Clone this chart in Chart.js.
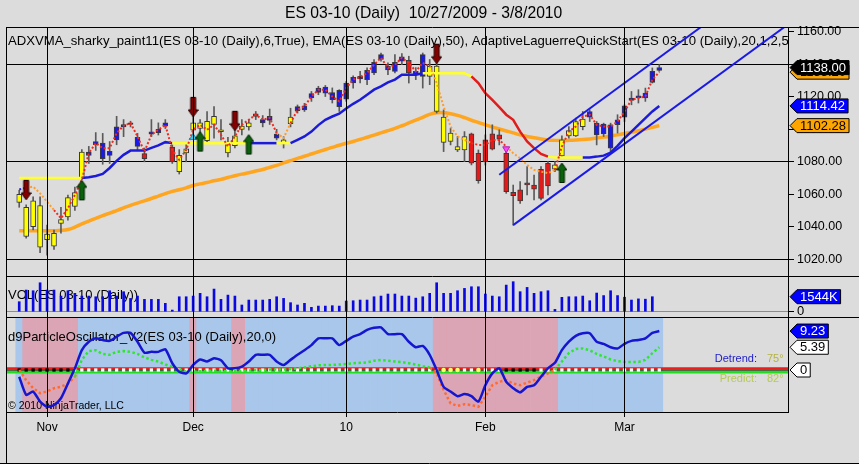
<!DOCTYPE html>
<html>
<head>
<meta charset="utf-8">
<title>ES 03-10 (Daily)</title>
<script src="https://cdn.jsdelivr.net/npm/chart.js@4.4.1/dist/chart.umd.min.js"></script>
<style>
  html, body { margin: 0; padding: 0; background: #dcdcdc; }
  #wrap { position: relative; width: 859px; height: 464px; overflow: hidden; }
  #c { position: absolute; left: 0; top: 0; }
  #title { position: absolute; top: 4px; left: 285px; font: 15.7px "Liberation Sans", Arial, sans-serif; white-space: pre; color: #000; }
</style>
</head>
<body>
<div id="wrap">
  <canvas id="c" width="859" height="464"></canvas>
  <div id="title">ES 03-10 (Daily)  10/27/2009 - 3/8/2010</div>
</div>
<script>
const FONT = '"Liberation Sans", Arial, sans-serif';

// trading days on the chart
const days = [
  '10/27','10/28','10/29','10/30',
  '11/2','11/3','11/4','11/5','11/6','11/9','11/10','11/11','11/12','11/13','11/16','11/17','11/18','11/19','11/20','11/23','11/24','11/25','11/26','11/27','11/30',
  '12/1','12/2','12/3','12/4','12/7','12/8','12/9','12/10','12/11','12/14','12/15','12/16','12/17','12/18','12/21','12/22','12/23','12/24','12/28','12/29','12/30','12/31',
  '1/4','1/5','1/6','1/7','1/8','1/11','1/12','1/13','1/14','1/15','1/18','1/19','1/20','1/21','1/22','1/25','1/26','1/27','1/28','1/29',
  '2/1','2/2','2/3','2/4','2/5','2/8','2/9','2/10','2/11','2/12','2/15','2/16','2/17','2/18','2/19','2/22','2/23','2/24','2/25','2/26',
  '3/1','3/2','3/3','3/4','3/5','3/8'
];

// month gridlines (bar index) and their labels
const monthIdx = [4, 25, 47, 67, 87];
const monthLbl = ['Nov', 'Dec', '10', 'Feb', 'Mar'];
const priceTicks = [1020, 1040, 1060, 1080, 1100, 1120, 1140, 1160];

// OHLC
const opens = [
  1060, 1052, 1056, 1053, 1032, 1028, 1042, 1046, 1052.5, 1070,
  1084, 1090.5, 1091.5, 1084, 1093.5, 1101.5, 1103, 1095, 1085, 1097,
  1098, 1102, 1089, 1074, 1085.5, 1099.5, 1104, 1093, 1103, 1099.7,
  1091, 1090, 1100, 1101.5, 1109.5, 1104, 1105.5, 1097, 1093.5, 1103.5,
  1111.5, 1112, 1119.3, 1122.7, 1126, 1122.7, 1124, 1118.6, 1128.5, 1131,
  1130.6, 1134.7, 1143, 1136.5, 1135.7, 1142, 1142.5, 1133.6, 1132.6, 1132.6,
  1139, 1107.5, 1092.5, 1089.4, 1087.3, 1097.2, 1085.3, 1093.5, 1087.8, 1096.6,
  1085.3, 1061.2, 1062.7, 1065.7, 1065.7, 1057.5, 1065.1, 1075.4, 1083.6, 1096,
  1096, 1101.7, 1107.5, 1103.8, 1097.2, 1102.8, 1102.8, 1107.5, 1117.8, 1119.3,
  1119.3, 1128.9, 1136.3
];
const highs = [
  1062.5, 1053.5, 1058.5, 1058.5, 1041, 1038, 1052, 1059.5, 1064.5, 1087.5,
  1089.5, 1098, 1097.5, 1092.5, 1108, 1106, 1105, 1097.5, 1088.5, 1106,
  1104, 1106, 1090.5, 1087.5, 1091.5, 1108, 1106, 1111, 1114, 1106,
  1095, 1100, 1106, 1106, 1111, 1108.5, 1112.5, 1100, 1095.5, 1113,
  1115, 1116, 1123.3, 1126.5, 1127, 1125.5, 1124.4, 1129.5, 1133, 1135.7,
  1137.8, 1143, 1147, 1141, 1146, 1146.6, 1145, 1138, 1147, 1143,
  1141, 1112, 1100.7, 1095.6, 1098.6, 1097.7, 1087.3, 1096.6, 1102.8, 1099.7,
  1086.3, 1065.7, 1067.8, 1077, 1071.9, 1077, 1080.1, 1080.1, 1096, 1101.7,
  1106.9, 1111, 1112, 1104.8, 1103.8, 1103.8, 1109, 1115.1, 1123.3, 1124.4,
  1125.4, 1137.8, 1139.8
];
const lows = [
  1052, 1033, 1038, 1024, 1022.5, 1026, 1036, 1044, 1050, 1069,
  1079, 1087, 1078.5, 1079, 1090.5, 1095.5, 1101.5, 1087, 1080, 1095.5,
  1096.5, 1100.5, 1079, 1072.5, 1080, 1096.5, 1098, 1091.5, 1094.5, 1093.5,
  1083, 1088.5, 1096.5, 1099.5, 1106, 1101.5, 1103, 1093.5, 1088.5, 1101.5,
  1110, 1111, 1117.2, 1121.3, 1120.2, 1116.2, 1111, 1117.2, 1125.4, 1128.5,
  1127.5, 1133.6, 1142, 1133.6, 1134.7, 1139.8, 1128.5, 1130.6, 1125.4, 1127.5,
  1110, 1086.3, 1090.4, 1086.3, 1080.1, 1078.1, 1066.8, 1078, 1087.3, 1090.4,
  1060.6, 1041, 1054.4, 1059.6, 1056.5, 1056.5, 1059.6, 1074, 1083.2, 1094.6,
  1095.6, 1099.7, 1104.8, 1090.4, 1095.6, 1086.3, 1097.7, 1104.8, 1115.1, 1116.2,
  1117.2, 1128.5, 1135.7
];
const closes = [
  1055, 1034, 1040, 1027.5, 1035.5, 1036, 1044.5, 1058, 1061, 1086,
  1086, 1092.5, 1082, 1086.5, 1101.5, 1103, 1104, 1089.5, 1082, 1098.5,
  1100, 1104, 1080, 1084, 1088, 1104, 1100.5, 1105, 1108, 1098.5,
  1085.5, 1096, 1102, 1104, 1108, 1106, 1108, 1094.5, 1091, 1107.5,
  1114, 1114.5, 1122, 1125.4, 1122.3, 1118.2, 1114, 1128.5, 1132, 1132.6,
  1136.3, 1141.2, 1146, 1139, 1141.2, 1144.6, 1134.7, 1135.7, 1146, 1138.8,
  1111, 1092, 1097.7, 1087.3, 1095.6, 1079.1, 1068.4, 1080, 1097.2, 1094,
  1061.6, 1059.1, 1056, 1067, 1063.1, 1075.4, 1079.1, 1078.1, 1093.5, 1099.3,
  1104.8, 1106.3, 1111, 1096.6, 1103.2, 1088.4, 1105.9, 1114.5, 1119.3, 1120.7,
  1122.3, 1135.7, 1138
];
// bar paint: y yellow, b blue, r red
const paint = 'yyyyyyyyyy bbbbbbbb r bbb r yyyyyyyyyyy r bbb yy bbbbbbbbbbbbbbbb r bb yyyyyy rrrrrrrrrrrr yyyyy bbbbbbbbbbb'.replace(/ /g, '').split('');

const ema50 = [
  1037.5, 1037.5, 1037.5, 1037.5, 1037.5, 1037.6, 1037.8, 1038.3, 1039.8, 1041.8,
  1043.5, 1045.2, 1046.9, 1048.4, 1050, 1051.6, 1053.2, 1054.6, 1056, 1057.4,
  1058.9, 1060.4, 1061.8, 1062.8, 1064, 1065.4, 1066.4, 1067.3, 1068.3, 1069.2,
  1070.3, 1071.4, 1072.4, 1073.3, 1074.3, 1075.3, 1076.6, 1077.8, 1079.3, 1080.7,
  1082.1, 1083.4, 1084.8, 1086.2, 1087.6, 1088.9, 1090.2, 1091.4, 1092.5, 1093.8,
  1095.1, 1096.4, 1097.8, 1099.2, 1100.6, 1102.2, 1103.9, 1105.6, 1107.4, 1109.2,
  1110.2, 1110.2, 1109.6, 1108.6, 1107.2, 1105.6, 1104.2, 1102.8, 1101.4, 1100.2,
  1099, 1097.8, 1096.6, 1095.6, 1094.8, 1094.1, 1093.5, 1093.2, 1093.1, 1093.2,
  1093.4, 1093.7, 1094.1, 1094.6, 1095.2, 1095.9, 1096.6, 1097.4, 1098.2, 1099.1,
  1100.1, 1101.2, 1102.28
];
const adxvma = [
  1070, 1070, 1070, 1070, 1070, 1070, 1070, 1070, 1070, 1070,
  1070.5, 1071.3, 1072.5, 1076.2, 1080.6, 1084.3, 1086.9, 1086.9, 1086.9, 1088.6,
  1090.1, 1092.1, 1091.5, 1091.5, 1091.5, 1091.5, 1091.5, 1091.5, 1091.5, 1091.5,
  1091.5, 1091.5, 1091.5, 1091.5, 1091.5, 1091.5, 1091.5, 1091.5, 1091.5, 1091.5,
  1093.5, 1095.6, 1098.6, 1102.6, 1105.9, 1107.9, 1109.6, 1112.8, 1115.7, 1118.2,
  1121.3, 1124.4, 1126.4, 1128.9, 1130.6, 1133.6, 1133.6, 1133.6, 1134.5, 1134.5,
  1134.5, 1134.5, 1134.5, 1134.5, 1134.5, 1132.6, 1128.5, 1122.3, 1118.2, 1113.7,
  1109, 1105.9, 1098.6, 1092.5, 1088.4, 1084.9, 1083.2, 1082.6, 1082.6, 1082.6,
  1082.6, 1082.6, 1082.7, 1083.2, 1083.8, 1085.7, 1089.8, 1094.6, 1098.6, 1102.8,
  1106.9, 1111, 1114.42
];
const adxSeg = 'yyyyyyyyy bbbbbbbbbbbbb yyyyyyyyyyy bbbb yy bbbbbbbbbbbbbbbbbbb yyyyyyy rrrrrrrrrrr yyyyy bbbbbbbbbbbb'.replace(/ /g, '').split('');
const laguerre = [
  1063, 1064, 1064.7, 1060.6, 1055.4, 1050.3, 1045.2, 1051.4, 1059.6, 1068.8,
  1085.3, 1091.5, 1088.4, 1088.4, 1097.7, 1102.2, 1103.8, 1095.6, 1086.3, 1096.6,
  1099.7, 1102.8, 1087.3, 1081.2, 1087.3, 1099.7, 1102.8, 1099.7, 1102.8, 1096.6,
  1089.4, 1095.6, 1102.8, 1105.9, 1109, 1105.9, 1107, 1097.7, 1094.6, 1103.8,
  1112, 1114.1, 1120.2, 1124.4, 1124.4, 1120.2, 1117.2, 1125.4, 1130.6, 1132.2,
  1134.7, 1139.8, 1144, 1137.8, 1139.8, 1144, 1140.9, 1135.7, 1140.9, 1138.8,
  1128.5, 1114.1, 1101.7, 1095.6, 1093.5, 1091.5, 1090.4, 1090.4, 1093.5, 1093.5,
  1089.4, 1085.3, 1082.2, 1078.1, 1075, 1074, 1073, 1075, 1089.4, 1098.6,
  1101.7, 1107.9, 1109, 1102.8, 1101.7, 1101.7, 1104.8, 1111, 1118.2, 1119.3,
  1120.2, 1130.6, 1135.2
];
const lagSeg = 'b oooo rrrrrrrrrrrrrrrrrrrrrrrrrrrrrrrr oo rrrrrrrrrrrrrrrrrrrr oooooo rrrrr ooooooo rrrrrrrrrrrrrrrr'.replace(/ /g, '').split('');

// volume, thousands of contracts
const volume = [
  1030, 2230, 2160, 2980, 2230, 2230, 1610, 2160, 1890, 1610,
  1610, 1540, 1540, 2160, 1610, 2060, 1370, 1610, 1270, 1270,
  1270, 860, 170, 1540, 1540, 1610, 1890, 1540, 2330, 1270,
  1710, 1610, 690, 1200, 1200, 1200, 1270, 1540, 1370, 930,
  690, 860, 450, 580, 580, 620, 580, 1100, 1130, 1200,
  1200, 1540, 1610, 1820, 1820, 1610, 1610, 1400, 1540, 1890,
  2980, 1890, 1890, 2160, 2400, 2570, 2570, 1820, 1610, 1540,
  2740, 3090, 2060, 2500, 1890, 2060, 2160, 240, 1480, 1540,
  1540, 1610, 1130, 1920, 1660, 2160, 1660, 1490, 1200, 1320,
  1290, 1544, null
];

// particle oscillator
const detrend = [
  -1.6, -5.9, -5.1, -7.5, -8.7, -8.3, -6.7, -3.2, 0.4, 4.7,
  6.7, 7.5, 7.1, 6.9, 7.9, 8.8, 8.8, 6.7, 4.1, 4.3,
  4.3, 4.9, 1.6, -0.4, -0.8, 1.2, 2.5, 2.0, 2.8, 2.3,
  0.4, 0.4, 0.8, 2.0, 3.6, 3.6, 3.6, 2.0, 1.2, 2.4,
  3.6, 4.7, 5.9, 7.5, 7.5, 7.5, 5.9, 6.9, 7.9, 8.5,
  9.5, 10.0, 10.1, 8.5, 8.5, 8.5, 6.7, 5.4, 5.7, 3.6,
  0.0, -4.0, -5.1, -6.2, -5.7, -6.2, -7.5, -3.6, -0.8, 0.4,
  -2.8, -4.3, -5.3, -4.0, -3.6, -1.6, 0.4, 1.7, 4.7, 6.7,
  8.1, 8.7, 8.7, 6.7, 6.2, 5.4, 5.1, 6.2, 6.9, 7.1,
  7.5, 8.8, 9.23
];
const predict = [
  0, -2.4, -4.3, -5.5, -5.1, -4.3, -4.0, -3.2, -1.6, 2.4,
  4.5, 4.7, 3.8, 3.6, 4.3, 4.5, 4.3, 3.8, 3.0, 2.4,
  2.0, 1.3, 0.8, 0.2, -0.4, -0.4, -0.3, -0.2, -0.2, -0.2,
  -0.3, -0.3, -0.2, -0.1, 0, 0, 0.1, 0.1, 0.1, 0.2,
  0.4, 0.6, 0.9, 1.1, 1.2, 1.2, 1.3, 1.4, 1.6, 1.7,
  1.8, 2.2, 2.4, 2.2, 2.0, 1.9, 1.6, 1.3, 0.9, 0.6,
  -0.8, -4.7, -7.9, -8.5, -8.1, -8.3, -8.7, -6.3, -3.6, -2.8,
  -2.4, -3.2, -3.6, -3.0, -2.4, -1.6, -0.8, 0, 2.0, 4.0,
  5.0, 5.1, 4.7, 3.8, 3.2, 2.5, 2.1, 1.9, 1.9, 1.9,
  2.4, 4.0, 5.39
];
const predSeg = 'oooooooo ggggggggggggggggggggggggggggggggggggggggggggggggggg oooooooooooooooooo gggggggggggggggg'.replace(/ /g, '').split('');
const shade = 'b pppppppp bbbbbbbbbbbbbbbb p bbbbb pp bbbbbbbbbbbbbbbbbbbbbbbbbbb pppppppppppppppppp bbbbbbbbbbbbbbb'.replace(/ /g, '').split('');
const zeroDots = 'kkkkkkkk wwwwwwwwwwwwwwwwwwwwwwwwwwwwwwwwwwwwwwwwwwwwwwwwwwwww yyy ww y www kkkkk wwwwwwwwwwwwwwwwww'.replace(/ /g, '').split('');

// hand drawn channel (bar index / price)
const chanUpX = [69, 98], chanUpY = [1072, 1163];
const chanLoX = [71, 110], chanLoY = [1041, 1163];

// signal markers
const downBars = [1, 25, 31, 60], downTips = [1056.6, 1107.7, 1099.1, 1140.4];
const upBars = [9, 26, 33, 78], upTips = [1068.6, 1098.6, 1096.8, 1079.3];
const cyanBars = [25], cyanY = [1095];
const pinkBars = [70], pinkY = [1088];

// sanity check on the per-bar lists
[opens, highs, lows, closes, paint, ema50, adxvma, adxSeg, laguerre, lagSeg, volume, detrend, predict, predSeg, shade, zeroDots]
  .forEach((a, k) => { if (a.length !== days.length) throw new Error('list ' + k + ' has ' + a.length); });

// axis ranges
const xMin = -1.9, xMax = 110.5;
const pMin = 1009.7, pMax = 1163;
const vMin = -545, vMax = 3675;
const oMin = -9.95, oMax = 12.56;

const PAINT = { y: '#ffff00', b: '#1a1ae8', r: '#e81818' };
const ADX = { y: '#ffff30', b: '#1c1cd8', r: '#e01c1c' };
const LAG = { b: '#2424e0', o: '#ff9c2c', r: '#f22a1e' };
const PRED = { o: '#ff6a30', g: '#2ee62e' };
const SHADE = { b: '#a9c7ea', p: '#dba5b5' };
const DOT = { k: '#000000', w: '#ffffff', y: '#ffff70' };

const pts = arr => arr.map((v, i) => ({ x: i, y: v }));
const pairs = (xs, ys) => xs.map((x, i) => ({ x, y: ys[i] }));
const span = v => [{ x: xMin, y: v }, { x: xMax, y: v }];

// arrow marker, tip at the image centre
function arrow(fill, edge, up) {
  const c = document.createElement('canvas');
  c.width = 11; c.height = 42;
  const g = c.getContext('2d');
  const s = up ? 1 : -1;
  g.beginPath();
  g.moveTo(5.5, 21);
  g.lineTo(0.5, 21 + s * 7);
  g.lineTo(3, 21 + s * 7);
  g.lineTo(3, 21 + s * 19.5);
  g.lineTo(8, 21 + s * 19.5);
  g.lineTo(8, 21 + s * 7);
  g.lineTo(10.5, 21 + s * 7);
  g.closePath();
  g.fillStyle = fill; g.fill();
  g.strokeStyle = edge; g.lineWidth = 1; g.stroke();
  return c;
}

// value tag on the right axis
function tag(ctx, x0, y, text, fill, ink) {
  ctx.font = '13px ' + FONT;
  const w = ctx.measureText(text).width;
  const h = 14;
  ctx.beginPath();
  ctx.moveTo(x0, y);
  ctx.lineTo(x0 + 7, y - h / 2);
  ctx.lineTo(x0 + 13 + w, y - h / 2);
  ctx.lineTo(x0 + 13 + w, y + h / 2);
  ctx.lineTo(x0 + 7, y + h / 2);
  ctx.closePath();
  ctx.fillStyle = fill; ctx.fill();
  ctx.strokeStyle = '#000'; ctx.lineWidth = 1; ctx.stroke();
  ctx.fillStyle = ink; ctx.textAlign = 'left'; ctx.textBaseline = 'middle';
  ctx.fillText(text, x0 + 10, y + 0.5);
}

const overlay = {
  id: 'overlay',
  beforeDraw(chart) {
    const { ctx, chartArea: a } = chart;
    ctx.save();
    ctx.beginPath(); ctx.rect(a.left, a.top, a.width, a.height); ctx.clip();
    ctx.font = '13.15px ' + FONT; ctx.fillStyle = '#000'; ctx.textBaseline = 'middle'; ctx.textAlign = 'left';
    ctx.fillText('ADXVMA_sharky_paint11(ES 03-10 (Daily),6,True), EMA(ES 03-10 (Daily),50), AdaptiveLaguerreQuickStart(ES 03-10 (Daily),20,1,2,5)', a.left + 2, a.top + 14);
    ctx.font = '13px ' + FONT;
    ctx.fillText('VOL(ES 03-10 (Daily))', a.left + 2, chart.scales.yv.top + 19);
    ctx.restore();
  },
  afterDatasetDraw(chart, args) {
    if (args.index !== 0) return;
    const { ctx, chartArea: a } = chart;
    const yo = chart.scales.yo;
    ctx.save();
    ctx.textBaseline = 'middle';
    ctx.textAlign = 'left'; ctx.fillStyle = '#000';
    ctx.font = '13px ' + FONT;
    ctx.fillText('d9ParticleOscillator_V2(ES 03-10 (Daily),20,0)', a.left + 2, yo.top + 20);
    ctx.font = '10.5px ' + FONT;
    ctx.fillText('\u00a9 2010 NinjaTrader, LLC', a.left + 2, yo.bottom - 6);
    ctx.font = '11px ' + FONT;
    ctx.textAlign = 'right';
    ctx.fillStyle = '#1c1cc8'; ctx.fillText('Detrend:', a.right - 31, yo.top + 42);
    ctx.fillStyle = '#b8c858'; ctx.fillText('Predict:', a.right - 31, yo.top + 62);
    ctx.textAlign = 'left';
    ctx.fillStyle = '#b4b440'; ctx.fillText('75\u00b0', a.right - 21, yo.top + 42);
    ctx.fillStyle = '#b8c858'; ctx.fillText('82\u00b0', a.right - 21, yo.top + 62);
    ctx.restore();
  },
  afterDraw(chart) {
    const { ctx, chartArea: a, scales } = chart;
    const W = chart.width, H = chart.height;
    ctx.save();
    // panel frames
    ctx.strokeStyle = '#000'; ctx.lineWidth = 1;
    ctx.beginPath();
    [a.top, scales.yv.top, scales.yo.top].forEach(t => {
      const y = Math.round(t) + 0.5;
      ctx.moveTo(a.left, y); ctx.lineTo(W, y);
    });
    const lx = Math.round(a.left) + 0.5;
    ctx.moveTo(lx, a.top); ctx.lineTo(lx, H);
    ctx.moveTo(0, H - 0.5); ctx.lineTo(W, H - 0.5);
    ctx.stroke();
    // value tags
    const n = days.length - 1;
    const x0 = a.right + 2;
    const yP = scales.y, yV = scales.yv, yO = scales.yo;
    tag(ctx, x0, yP.getPixelForValue(laguerre[n]), laguerre[n].toFixed(2), '#ffa500', '#000');
    tag(ctx, x0, yP.getPixelForValue(closes[n]), closes[n].toFixed(2), '#000', '#fff');
    tag(ctx, x0, yP.getPixelForValue(adxvma[n]), adxvma[n].toFixed(2), '#0000ff', '#fff');
    tag(ctx, x0, yP.getPixelForValue(ema50[n]), ema50[n].toFixed(2), '#ffa500', '#000');
    const lastVol = volume.filter(v => v != null).pop();
    tag(ctx, x0, yV.getPixelForValue(lastVol), Math.round(lastVol) + 'K', '#0000ff', '#fff');
    tag(ctx, x0, yO.getPixelForValue(detrend[n]), detrend[n].toFixed(2), '#0000ff', '#fff');
    tag(ctx, x0, yO.getPixelForValue(predict[n]), predict[n].toFixed(2), '#fff', '#000');
    tag(ctx, x0, yO.getPixelForValue(0), '0', '#fff', '#000');
    ctx.restore();
  }
};

Chart.defaults.font.family = FONT;
Chart.defaults.elements.point.radius = 0;

const datasets = [
  // oscillator background, one cell per bar (must stay index 0)
  { type: 'bar', yAxisID: 'yo', order: 100, data: days.map((d, i) => ({ x: i, y: [oMin, oMax] })),
    backgroundColor: shade.map(c => SHADE[c]), barPercentage: 1, categoryPercentage: 1, grouped: false },
  { type: 'line', yAxisID: 'yo', order: 92, data: span(-0.5), borderColor: '#22dd22', borderWidth: 3 },
  { type: 'line', yAxisID: 'yo', order: 91, data: span(0.42), borderColor: '#ee1c1c', borderWidth: 2 },
  { type: 'line', yAxisID: 'yo', order: 90, data: span(0), borderColor: '#000', borderWidth: 1 },
  { type: 'line', yAxisID: 'yo', order: 85, showLine: false, data: pts(days.map(() => 0)),
    pointRadius: 2.3, pointStyle: zeroDots.map(c => c === 'y' ? 'circle' : 'rect'),
    pointBackgroundColor: zeroDots.map(c => DOT[c]), pointBorderWidth: 0 },
  { type: 'line', yAxisID: 'yo', order: 80, data: pts(predict), borderWidth: 2.5, borderDash: [2.5, 2.5],
    segment: { borderColor: s => PRED[predSeg[s.p0DataIndex]] } },
  { type: 'line', yAxisID: 'yo', order: 79, data: pts(detrend), borderColor: '#1616d0', borderWidth: 2.5, tension: 0.2 },
  // volume
  { type: 'bar', yAxisID: 'yv', order: 70, data: pts(volume), backgroundColor: '#0a0ae0', barThickness: 2, grouped: false },
  // price pane
  { type: 'line', yAxisID: 'y', order: 60, data: pts(ema50), borderColor: '#ffa620', borderWidth: 3.5, tension: 0.4 },
  { type: 'bar', yAxisID: 'y', order: 55, data: days.map((d, i) => ({ x: i, y: [lows[i], highs[i]] })),
    backgroundColor: '#5a5a5a', barThickness: 1, grouped: false },
  { type: 'bar', yAxisID: 'y', order: 54, data: days.map((d, i) => ({ x: i, y: [opens[i], closes[i]] })),
    backgroundColor: paint.map(c => PAINT[c]), borderColor: '#3a3a3a', borderWidth: 1, borderSkipped: false,
    barThickness: 5, grouped: false },
  { type: 'line', yAxisID: 'y', order: 50, data: pts(adxvma), borderWidth: 2.5,
    segment: { borderColor: s => ADX[adxSeg[s.p0DataIndex]] } },
  { type: 'line', yAxisID: 'y', order: 49, data: pts(laguerre), borderWidth: 2, borderDash: [2, 2],
    segment: { borderColor: s => LAG[lagSeg[s.p0DataIndex]] } },
  { type: 'line', yAxisID: 'y', order: 40, data: pairs(chanUpX, chanUpY), borderColor: '#1a1ae6', borderWidth: 2 },
  { type: 'line', yAxisID: 'y', order: 40, data: pairs(chanLoX, chanLoY), borderColor: '#1a1ae6', borderWidth: 2 },
  { type: 'line', yAxisID: 'y', order: 30, showLine: false, data: pairs(downBars, downTips),
    pointStyle: arrow('#850000', '#200000', false), pointRadius: 5 },
  { type: 'line', yAxisID: 'y', order: 30, showLine: false, data: pairs(upBars, upTips),
    pointStyle: arrow('#0b610b', '#002000', true), pointRadius: 5 },
  { type: 'line', yAxisID: 'y', order: 30, showLine: false, data: pairs(cyanBars, cyanY),
    pointStyle: 'triangle', pointRadius: 4, pointBackgroundColor: '#3cc8ec', pointBorderColor: '#2090b0', pointBorderWidth: 1 },
  { type: 'line', yAxisID: 'y', order: 30, showLine: false, data: pairs(pinkBars, pinkY),
    pointStyle: 'triangle', pointRotation: 180, pointRadius: 4, pointBackgroundColor: '#ff44ff', pointBorderColor: '#b020b0', pointBorderWidth: 1 }
];

new Chart(document.getElementById('c'), {
  type: 'bar',
  data: { datasets },
  plugins: [overlay],
  options: {
    responsive: false,
    animation: false,
    events: [],
    layout: { padding: { top: 27, left: 1, right: 0, bottom: 0 } },
    plugins: { legend: { display: false }, tooltip: { enabled: false } },
    scales: {
      x: {
        type: 'linear', min: xMin, max: xMax, offset: false, z: 1,
        afterBuildTicks: s => { s.ticks = monthIdx.map(v => ({ value: v })); },
        afterFit: s => { s.height = 52; },
        ticks: { callback: (v, i) => monthLbl[i], autoSkip: false, maxRotation: 0, color: '#000', font: { size: 12 }, padding: 3 },
        grid: { offset: false, color: '#000', tickColor: '#000', tickLength: 5, z: 1 },
        border: { display: true, color: '#000', z: 1 }
      },
      y: {
        position: 'right', stack: 'panes', stackWeight: 249, min: pMin, max: pMax,
        afterBuildTicks: s => { s.ticks = priceTicks.map(v => ({ value: v })); },
        afterFit: s => { s.width = 71; },
        ticks: { callback: v => v.toFixed(2), color: '#000', font: { size: 12.5 }, padding: 3 },
        grid: { color: c => (c.tick && c.tick.value % 60 === 0) ? '#000' : 'rgba(0,0,0,0)', tickColor: '#000', tickLength: 6 },
        border: { display: true, color: '#000' }
      },
      yv: {
        position: 'right', stack: 'panes', stackWeight: 41, min: vMin, max: vMax,
        afterBuildTicks: s => { s.ticks = [{ value: 0 }]; },
        afterFit: s => { s.width = 71; },
        ticks: { color: '#000', font: { size: 13 }, padding: 3 },
        grid: { color: '#8c8c8c', tickColor: '#000', tickLength: 6 },
        border: { display: true, color: '#000' }
      },
      yo: {
        position: 'right', stack: 'panes', stackWeight: 95, min: oMin, max: oMax,
        afterFit: s => { s.width = 71; },
        ticks: { display: false },
        grid: { display: false },
        border: { display: true, color: '#000' }
      }
    }
  }
});
</script>
</body>
</html>
